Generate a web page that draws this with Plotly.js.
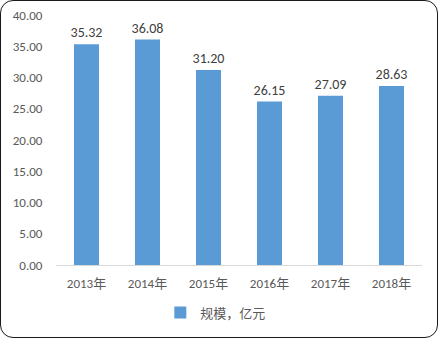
<!DOCTYPE html>
<html><head><meta charset="utf-8">
<script src="https://cdn.plot.ly/plotly-3.0.1.min.js"></script>
<style>
html,body{margin:0;padding:0;background:#fff;}
#wrap{position:relative;width:439px;height:339px;}
#chart{position:absolute;left:0;top:0;width:439px;height:339px;}
#frame{position:absolute;left:0;top:0;width:436px;height:336px;border:1.5px solid #1a1a1a;border-radius:13px;pointer-events:none;}
</style></head>
<body>
<div id="wrap"><div id="chart"></div><div id="frame"></div></div>
<script>
var categories = ['2013年','2014年','2015年','2016年','2017年','2018年'];
var values = [35.32, 36.08, 31.20, 26.15, 27.09, 28.63];
var seriesName = '规模，亿元';
var yTicks = [0,5,10,15,20,25,30,35,40];

var font = 'Calibri, Carlito, "Liberation Sans", "Noto Sans CJK SC", sans-serif';
Plotly.newPlot('chart', [{
  type: 'bar',
  x: categories,
  y: values,
  name: seriesName,
  marker: {color: '#5B9BD5'},
  width: 0.41,
  text: values.map(function(v){return v.toFixed(2);}),
  textposition: 'outside',
  constraintext: 'none',
  cliponaxis: false,
  textfont: {family: font, size: 14, color: '#404040'},
  showlegend: true
}], {
  width: 439, height: 339,
  margin: {l: 56, r: 17, t: 15, b: 70},
  paper_bgcolor: '#fff', plot_bgcolor: '#fff',
  font: {family: font, size: 13, color: '#595959'},
  xaxis: {
    showline: true, linecolor: '#D9D9D9', linewidth: 1,
    ticks: 'outside', ticklen: 6, tickcolor: 'rgba(0,0,0,0)',
    tickfont: {family: font, size: 13, color: '#595959'},
    showgrid: false
  },
  yaxis: {
    range: [0, 40], tickvals: yTicks,
    ticktext: yTicks.map(function(v){return v.toFixed(2);}),
    showgrid: false, zeroline: false, showline: false,
    ticks: 'outside', ticklen: 10, tickcolor: 'rgba(0,0,0,0)',
    tickfont: {family: font, size: 13, color: '#595959'}
  },
  legend: {
    orientation: 'h', x: 0.285, xanchor: 'left', y: -0.19, yanchor: 'middle',
    itemwidth: 30,
    font: {family: font, size: 13, color: '#595959'}
  },
  showlegend: true
}, {displayModeBar: false, staticPlot: true});
</script>
</body></html>
